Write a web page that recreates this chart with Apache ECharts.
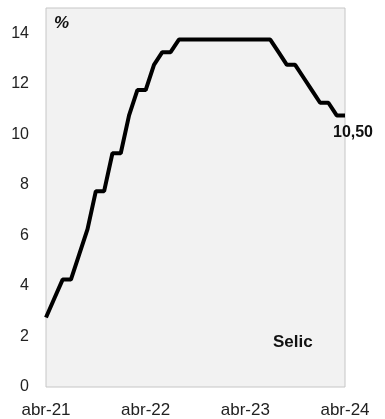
<!DOCTYPE html>
<html><head><meta charset="utf-8">
<script src="https://cdn.jsdelivr.net/npm/echarts@6/dist/echarts.min.js"></script>
<style>html,body{margin:0;padding:0;background:#fff}#c{width:385px;height:419px}</style>
</head><body><div id="c"></div>
<script>
const months = ["abr-21","mai-21","jun-21","jul-21","ago-21","set-21","out-21","nov-21","dez-21","jan-22","fev-22","mar-22",
"abr-22","mai-22","jun-22","jul-22","ago-22","set-22","out-22","nov-22","dez-22","jan-23","fev-23","mar-23",
"abr-23","mai-23","jun-23","jul-23","ago-23","set-23","out-23","nov-23","dez-23","jan-24","fev-24","mar-24","abr-24"];
const selic = [2.75,3.50,4.25,4.25,5.25,6.25,7.75,7.75,9.25,9.25,10.75,11.75,
11.75,12.75,13.25,13.25,13.75,13.75,13.75,13.75,13.75,13.75,13.75,13.75,
13.75,13.75,13.75,13.75,13.25,12.75,12.75,12.25,11.75,11.25,11.25,10.75,10.75];
const lastLabel = "10,50";
const seriesName = "Selic";
const unitLabel = "%";

const chart = echarts.init(document.getElementById('c'));
const data = selic.map((v,i)=> i===selic.length-1 ? {value:v,label:{show:true,position:'bottom',distance:9,offset:[8,0],formatter:lastLabel,fontFamily:'Liberation Sans, Arial',fontWeight:'bold',fontSize:16,color:'#111'}} : v);
chart.setOption({
  animation:false,
  grid:{left:46,right:40,top:8,bottom:31,show:true,backgroundColor:'#f2f2f2',borderColor:'#c6c6c6',borderWidth:1},
  xAxis:{type:'category',data:months,boundaryGap:false,
    axisLine:{show:false},axisTick:{show:false},splitLine:{show:false},
    axisLabel:{interval:11,margin:15,fontFamily:'Liberation Sans, Arial',fontSize:17,color:'#222'}},
  yAxis:{type:'value',min:0,max:15,interval:2,
    axisLine:{show:false},axisTick:{show:false},splitLine:{show:false},
    axisLabel:{showMaxLabel:false,margin:17,fontFamily:'Liberation Sans, Arial',fontSize:16,color:'#222'}},
  graphic:[
    {type:'text',left:273,top:334,style:{text:seriesName,fontFamily:'Liberation Sans, Arial',fontWeight:'bold',fontSize:17,fill:'#111'}},
    {type:'text',left:54,top:15,style:{text:unitLabel,fontFamily:'Liberation Sans, Arial',fontWeight:'bold',fontStyle:'italic',fontSize:17,fill:'#111'}}
  ],
  series:[{type:'line',data:data,symbol:'circle',symbolSize:0.01,showSymbol:true,itemStyle:{color:'#000'},lineStyle:{color:'#000',width:4},z:3}]
});
</script></body></html>
